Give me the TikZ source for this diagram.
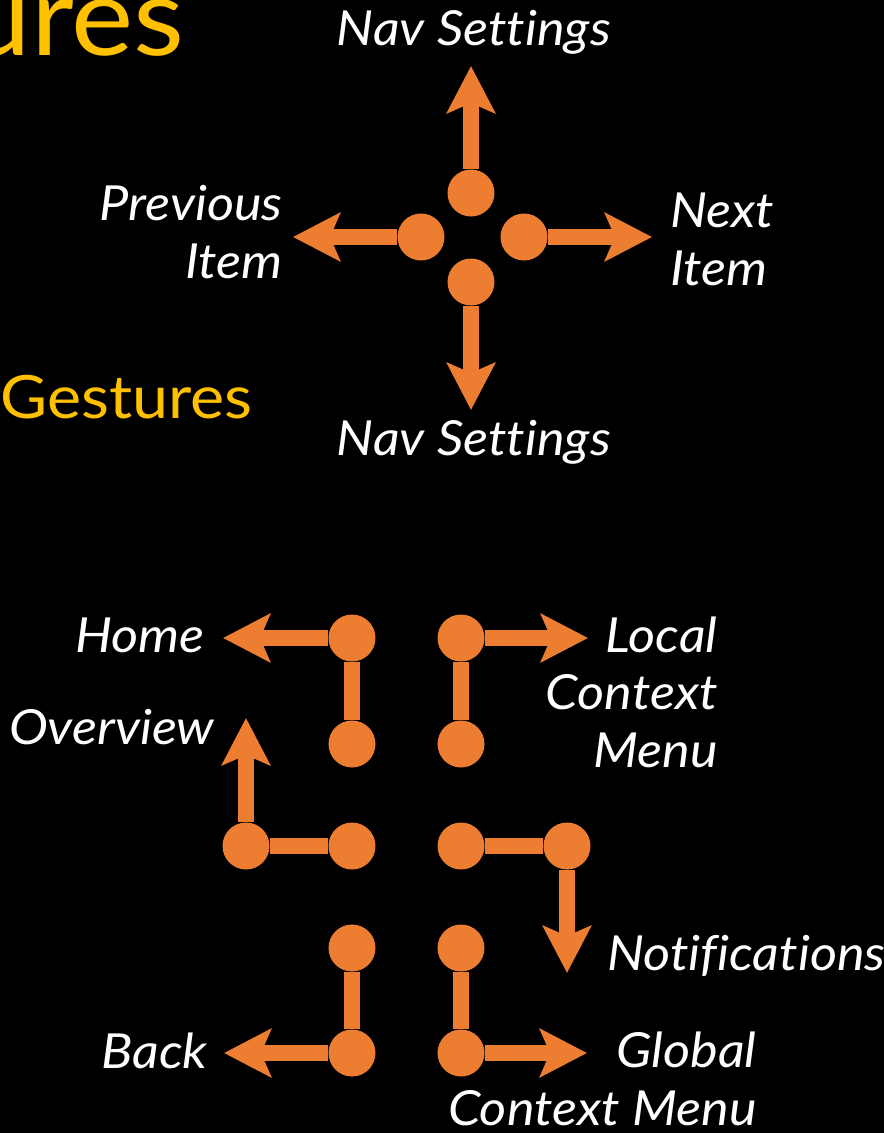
\documentclass[tikz,border=0pt]{standalone}
\usepackage{fontspec}
\setmainfont{Lato}[FakeStretch=1.08, Ligatures=NoCommon]
\usetikzlibrary{arrows.meta}

\definecolor{gorange}{HTML}{ED7D31}
\definecolor{gyellow}{HTML}{FFC000}

\tikzset{
    dot/.style={circle, fill=gorange, inner sep=0pt, minimum size=0.94cm},
    link/.style={gorange, line width=0.32cm},
    swipe/.style={link, -{Stealth[length=0.94cm, width=0.96cm, inset=0.2cm]}},
    gtext/.style={text=white, inner sep=0pt, font=\fontsize{27.5}{32.5}\selectfont\itshape},
    title/.style={text=gyellow, inner sep=0pt},
}

\begin{document}
\begin{tikzpicture}[x=0.02cm, y=-0.02cm]
    \fill[black] (0,0) rectangle (884,1133);
    \useasboundingbox (0,0) rectangle (884,1133);

    % slide title, cut off at the left
    \node[title, anchor=base east, font=\fontsize{62}{70}\selectfont] (titleTop) at (185,55) {ures};
    \node[title, anchor=base west, font=\fontsize{34}{40}\selectfont] (titleSub) at (0,418) {Gestures};

    % one-finger swipes
    \node[dot] (up) at (471,193) {};
    \node[dot] (left) at (421,237) {};
    \node[dot] (right) at (524,237) {};
    \node[dot] (down) at (471,282) {};

    \coordinate (upTip) at (471,66);
    \coordinate (leftTip) at (293,237);
    \coordinate (rightTip) at (652,237);
    \coordinate (downTip) at (471,410);

    \draw[swipe] (up) -- (upTip);
    \draw[swipe] (left) -- (leftTip);
    \draw[swipe] (right) -- (rightTip);
    \draw[swipe] (down) -- (downTip);

    \node[gtext, anchor=base] (navUp) at (474,45) {Nav Settings};
    \node[gtext, anchor=base east, align=right] (prev) at (283,278) {Previous\\Item};
    \node[gtext, anchor=base west, align=left] (next) at (670,285) {Next\\Item};
    \node[gtext, anchor=base] (navDown) at (474,455) {Nav Settings};

    % L-shaped swipes
    \node[dot] (homeA) at (352,744) {};
    \node[dot] (homeB) at (352,638) {};
    \node[dot] (localA) at (461,744) {};
    \node[dot] (localB) at (461,638) {};
    \node[dot] (overA) at (352,846) {};
    \node[dot] (overB) at (246,846) {};
    \node[dot] (notiA) at (461,846) {};
    \node[dot] (notiB) at (567,846) {};
    \node[dot] (backA) at (352,948) {};
    \node[dot] (backB) at (352,1053) {};
    \node[dot] (globA) at (461,948) {};
    \node[dot] (globB) at (461,1053) {};

    \coordinate (homeTip) at (223,638);
    \coordinate (localTip) at (588,638);
    \coordinate (overTip) at (246,718);
    \coordinate (notiTip) at (567,973);
    \coordinate (backTip) at (224,1053);
    \coordinate (globTip) at (587,1053);

    \draw[link] (homeA) -- (homeB);
    \draw[swipe] (homeB) -- (homeTip);
    \draw[link] (localA) -- (localB);
    \draw[swipe] (localB) -- (localTip);
    \draw[link] (overA) -- (overB);
    \draw[swipe] (overB) -- (overTip);
    \draw[link] (notiA) -- (notiB);
    \draw[swipe] (notiB) -- (notiTip);
    \draw[link] (backA) -- (backB);
    \draw[swipe] (backB) -- (backTip);
    \draw[link] (globA) -- (globB);
    \draw[swipe] (globB) -- (globTip);

    \node[gtext, anchor=base east] (home) at (205,652) {Home};
    \node[gtext, anchor=base east] (over) at (215,744) {Overview};
    \node[gtext, anchor=base east, align=right] (local) at (718,767) {Local\\Context\\Menu};
    \node[gtext, anchor=base west] (noti) at (607,970) {Notifications};
    \node[gtext, anchor=base east] (back) at (208,1068) {Back};
    \node[gtext, anchor=base east, align=right] (glob) at (757,1125) {Global\\Context Menu};
\end{tikzpicture}
\end{document}
